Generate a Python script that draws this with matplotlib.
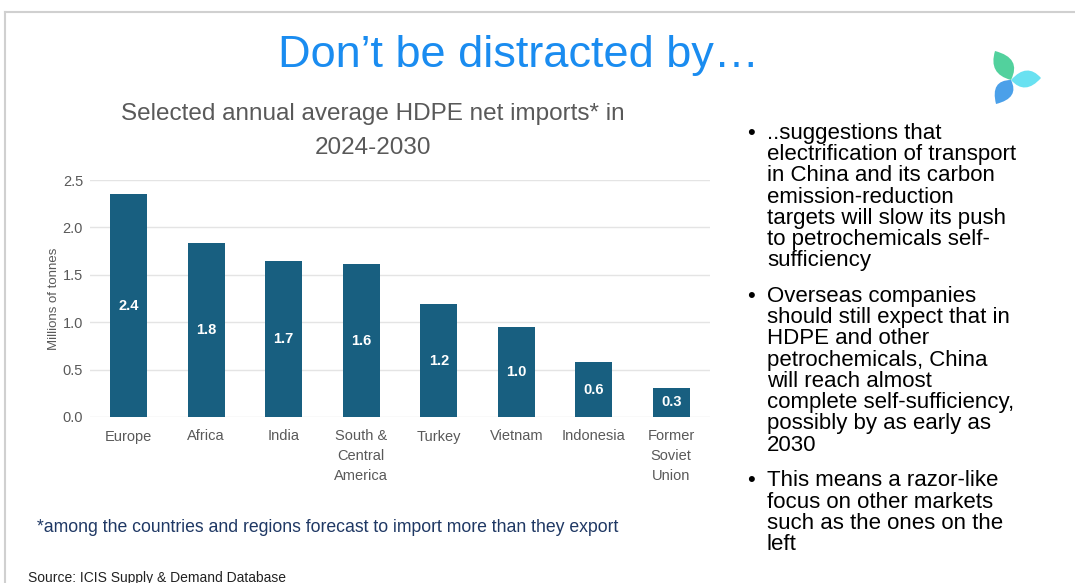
import matplotlib.pyplot as plt
from matplotlib.patches import PathPatch
from matplotlib.path import Path
from matplotlib.lines import Line2D

# Data
regions = ['Europe', 'Africa', 'India', 'South &\nCentral\nAmerica', 'Turkey',
           'Vietnam', 'Indonesia', 'Former\nSoviet\nUnion']
imports_mt = [2.35, 1.84, 1.65, 1.61, 1.19, 0.95, 0.58, 0.31]
value_labels = ['2.4', '1.8', '1.7', '1.6', '1.2', '1.0', '0.6', '0.3']
y_ticks = [0.0, 0.5, 1.0, 1.5, 2.0, 2.5]

bullets = [
    "..suggestions that\nelectrification of transport\nin China and its carbon\nemission-reduction\ntargets will slow its push\nto petrochemicals self-\nsufficiency",
    "Overseas companies\nshould still expect that in\nHDPE and other\npetrochemicals, China\nwill reach almost\ncomplete self-sufficiency,\npossibly by as early as\n2030",
    "This means a razor-like\nfocus on other markets\nsuch as the ones on the\nleft",
]

plt.rcParams['font.family'] = ['Liberation Sans', 'DejaVu Sans']

fig = plt.figure(figsize=(10.75, 5.83), dpi=100)
W, H = 1075, 583

def fx(px):
    return px / W

def fy(py):
    return 1 - py / H

# slide border
fig.add_artist(Line2D([fx(5), 1], [fy(12), fy(12)], color='#d0d0d0', lw=1.5))
fig.add_artist(Line2D([fx(5), fx(5)], [fy(12), 0], color='#d0d0d0', lw=1.5))

# title
fig.text(fx(519), fy(55), 'Don\u2019t be distracted by\u2026', ha='center', va='center',
         fontsize=32.5, color='#1a8cf0')

# logo: three leaf-shaped blades around a centre (pixel coords)
logo = fig.add_axes([fx(985), fy(112), fx(65), 1 - fy(65)])
logo.set_xlim(985, 1050)
logo.set_ylim(112, 47)
logo.axis('off')
centre = (1011, 80)
blades = [((995, 51), (1022, 58), (988, 74), '#34c98c'),
          ((1041, 78), (1027, 62), (1025, 96), '#4fdcef'),
          ((996, 104), (990, 80), (1020, 98), '#2b8fe6')]
for tip, c1, c2, col in blades:
    verts = [centre, c1, tip, c2, centre]
    codes = [Path.MOVETO, Path.CURVE3, Path.CURVE3, Path.CURVE3, Path.CURVE3]
    logo.add_patch(PathPatch(Path(verts, codes), facecolor=col, edgecolor='none', alpha=0.85))

# chart
ax = fig.add_axes([fx(90), fy(417), fx(710) - fx(90), fy(180) - fy(417)])
x = range(len(regions))
ax.bar(x, imports_mt, width=0.48, color='#185f80', zorder=3)
for i, (v, lab) in enumerate(zip(imports_mt, value_labels)):
    ax.text(i, v / 2, lab, ha='center', va='center', color='white',
            fontsize=10.5, fontweight='bold')

ax.set_xlim(-0.5, len(regions) - 0.5)
ax.set_ylim(0, 2.5)
ax.set_yticks(y_ticks)
ax.set_yticklabels([f'{t:.1f}' for t in y_ticks], fontsize=10.5, color='#595959')
ax.set_xticks(list(x))
ax.set_xticklabels(regions, fontsize=10.5, color='#595959', linespacing=1.5)
ax.tick_params(axis='y', length=0, pad=5)
ax.tick_params(axis='x', length=0, pad=9)
ax.grid(axis='y', color='#e4e4e4', lw=1, zorder=0)
for s in ax.spines.values():
    s.set_visible(False)
ax.set_ylabel('Millions of tonnes', fontsize=9.5, color='#595959', labelpad=2)

fig.text(fx(373), fy(131), 'Selected annual average HDPE net imports* in\n2024-2030',
         ha='center', va='center', fontsize=17.5, color='#595959', linespacing=1.7)

# footnote and source
fig.text(fx(37), fy(527), '*among the countries and regions forecast to import more than they export',
         ha='left', va='center', fontsize=12.7, color='#1f3864')
fig.text(fx(28), fy(578), 'Source: ICIS Supply & Demand Database', ha='left', va='center',
         fontsize=10, color='#222222')

# bullets on the right
y0 = 123
line_h = 21.5
gap = 12.5
for b in bullets:
    n = b.count('\n') + 1
    fig.text(fx(747), fy(y0), '\u2022', ha='left', va='top', fontsize=16, color='black')
    fig.text(fx(767), fy(y0), b, ha='left', va='top', fontsize=16, color='black',
             linespacing=1.015)
    y0 += n * line_h + gap

fig.savefig('out.png', dpi=100, facecolor='white')
